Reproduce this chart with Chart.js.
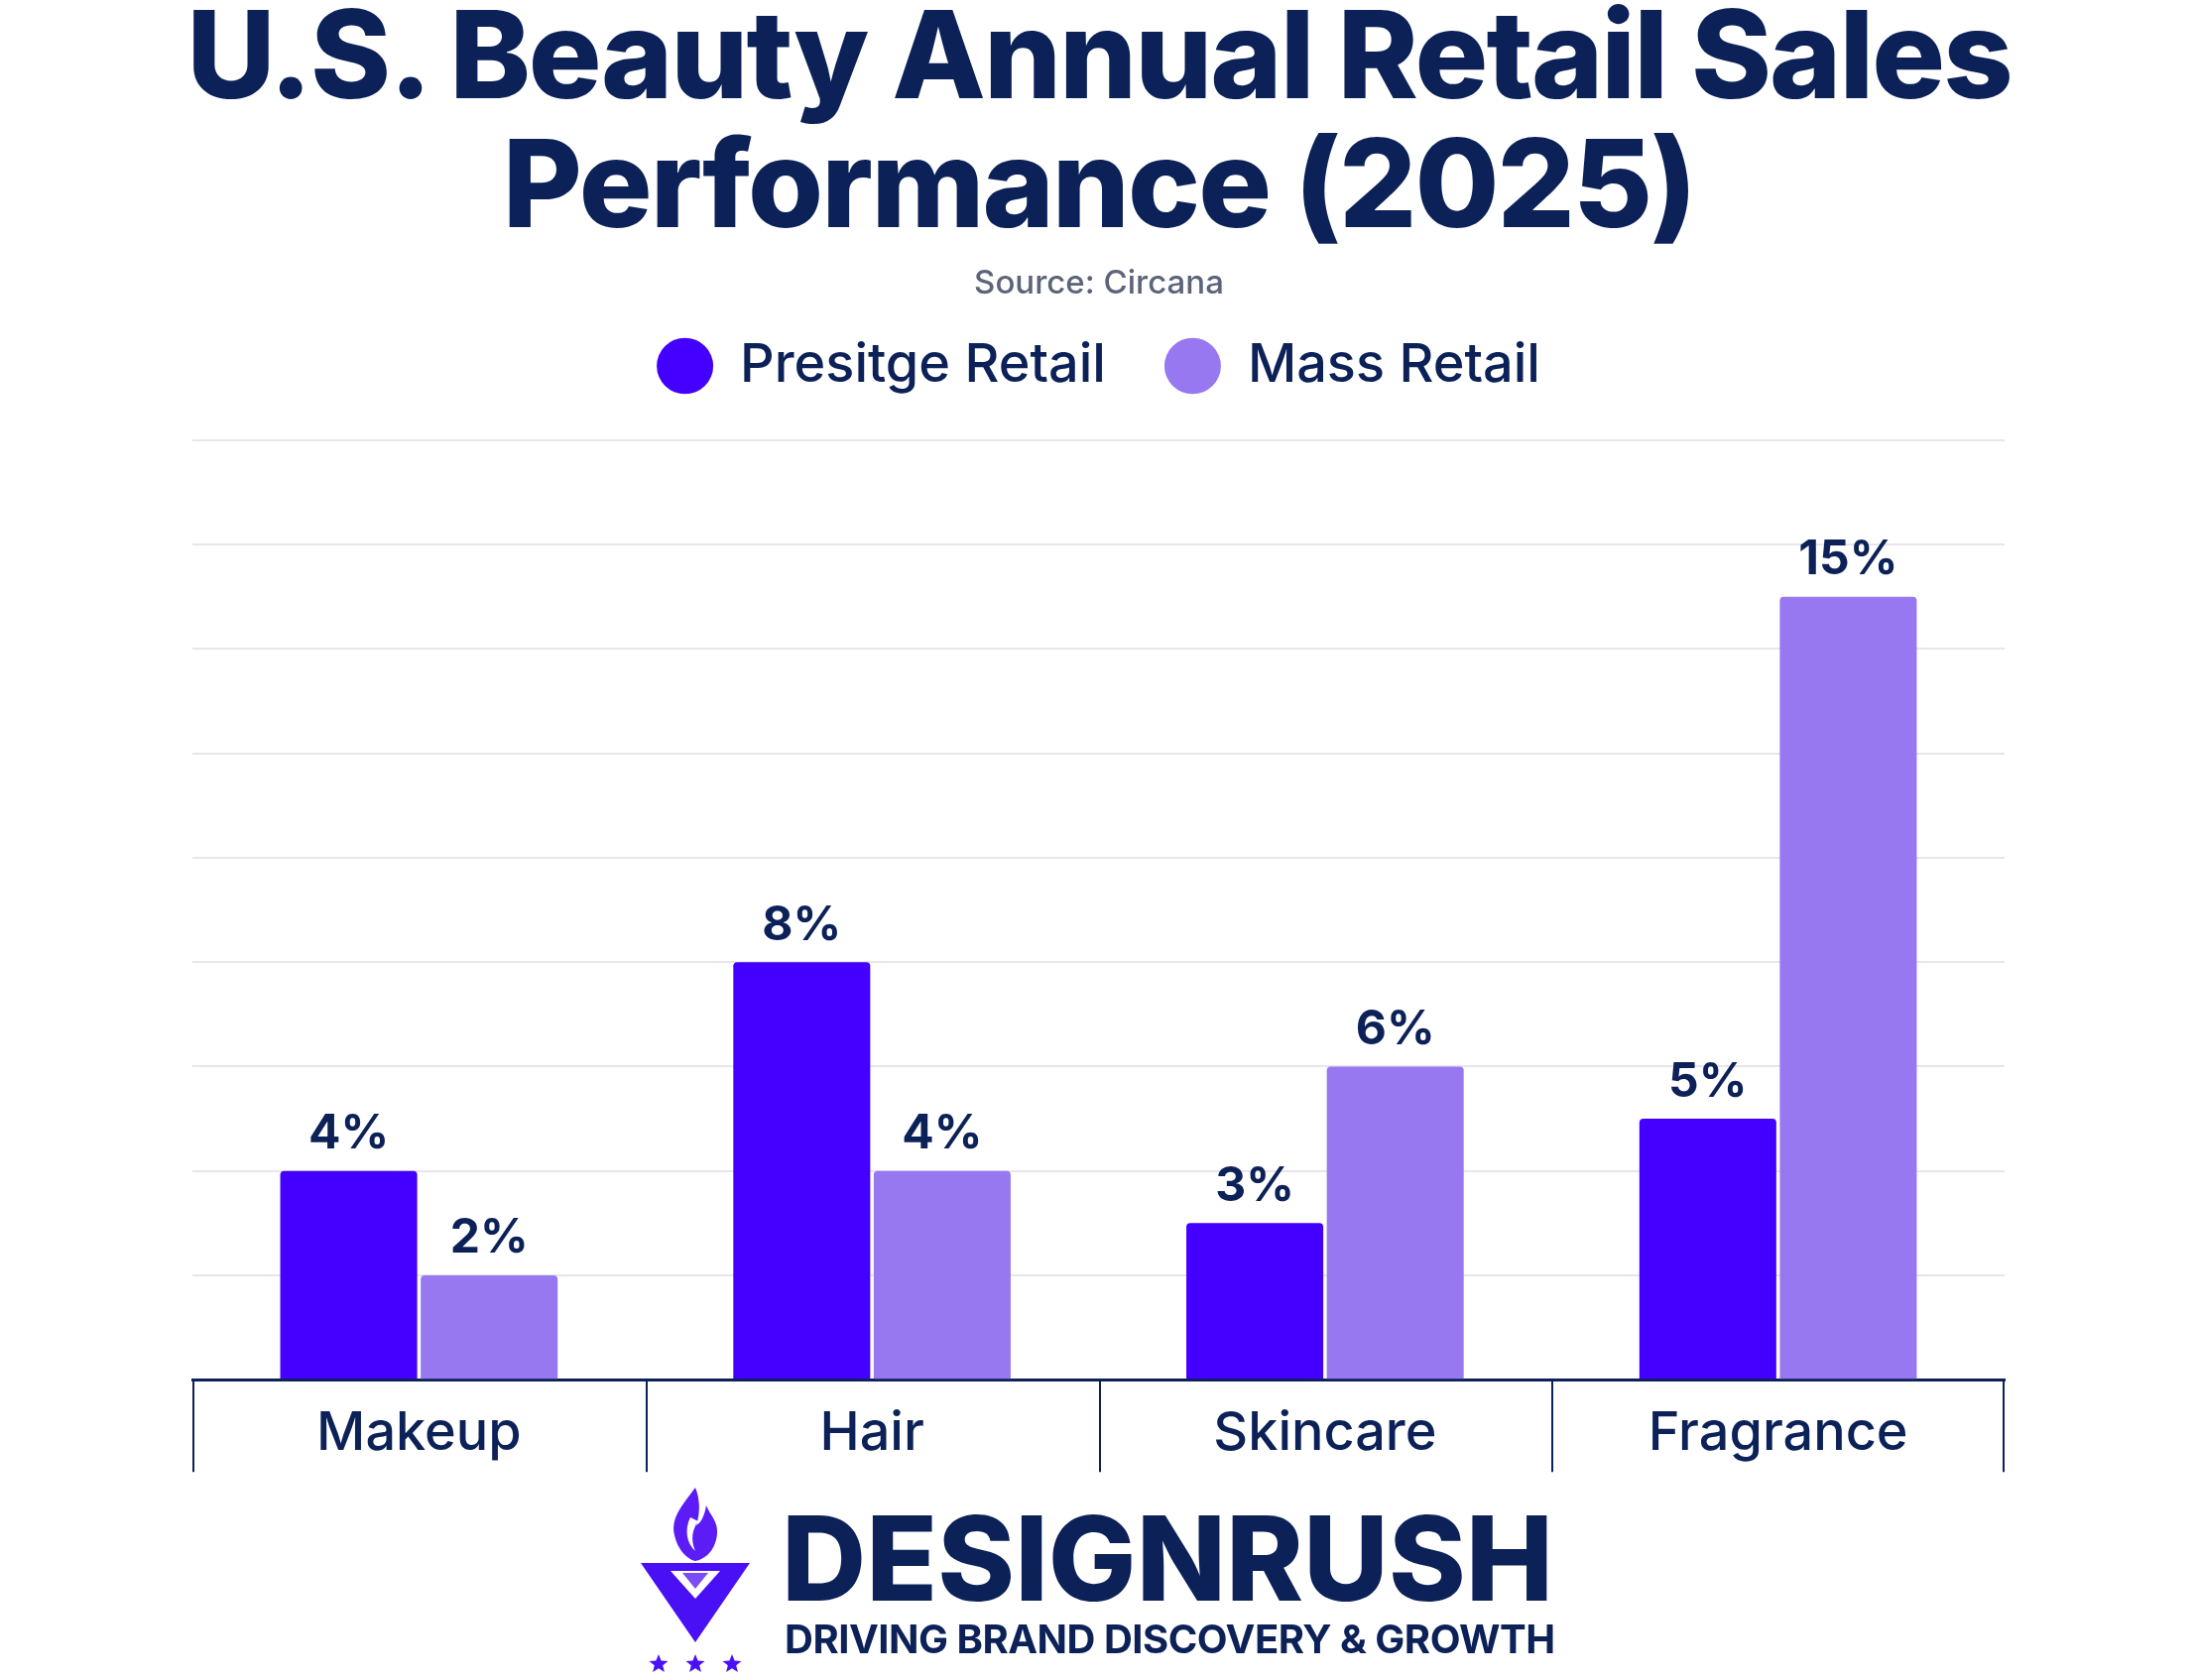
<!DOCTYPE html>
<html>
<head>
<meta charset="utf-8">
<script src="https://cdn.jsdelivr.net/npm/chart.js@4.4.1/dist/chart.umd.min.js"></script>
<style>
  html, body { margin: 0; padding: 0; background: #ffffff; }
  #page { position: relative; width: 2216px; height: 1694px; overflow: hidden; font-family: 'Inter', sans-serif; color: #0c2157; }
  #chart { position: absolute; left: 0; top: 0; }
  h1 { position: absolute; left: 0; top: -10px; width: 2216px; margin: 0; text-align: center;
       font-size: 123px; font-weight: 800; line-height: 130px; letter-spacing: -2px; }
  .source { position: absolute; left: 0; top: 264px; width: 2216px; text-align: center;
            font-size: 33px; font-weight: 500; color: #5b6478; margin: 0; }
  .logo-icon { position: absolute; left: 646px; top: 1500px; }
  .brand { position: absolute; left: 788px; top: 1512px; font-size: 118px; font-weight: 800; line-height: 1; }
  .tagline { position: absolute; left: 791px; top: 1633px; font-size: 40px; font-weight: 700; line-height: 1; letter-spacing: -0.5px; }
</style>
</head>
<body>
<div id="page">
  <canvas id="chart" width="2216" height="1694"></canvas>
  <h1>U.S. Beauty Annual Retail Sales<br>Performance (2025)</h1>
  <p class="source">Source: Circana</p>

  <svg class="logo-icon" width="110" height="192" viewBox="0 0 110 192">
    <path d="M55 0 C42 18 30 30 34 48 C37 62 46 72 55 74 C66 72 76 62 77 46 C78 34 70 28 66 18 C64 30 60 36 56 38 C60 26 60 12 55 0 Z" fill="#5b1cf5"/>
    <path d="M50 30 C44 42 46 56 55 64 C50 52 52 42 58 34 Z" fill="#ffffff"/>
    <polygon points="0,76 110,76 55,156" fill="#4a10f5"/>
    <polygon points="30,84 80,84 55,112" fill="#ffffff"/>
    <polygon points="42,86 68,86 55,102" fill="#7a4cf7"/>
    <g fill="#4a10f5">
      <polygon points="18,168 20.6,174.4 27.5,174.9 22.2,179.3 23.9,186 18,182.3 12.1,186 13.8,179.3 8.5,174.9 15.4,174.4"/>
      <polygon points="55,168 57.6,174.4 64.5,174.9 59.2,179.3 60.9,186 55,182.3 49.1,186 50.8,179.3 45.5,174.9 52.4,174.4"/>
      <polygon points="92,168 94.6,174.4 101.5,174.9 96.2,179.3 97.9,186 92,182.3 86.1,186 87.8,179.3 82.5,174.9 89.4,174.4"/>
    </g>
  </svg>
  <div class="brand">DESIGNRUSH</div>
  <div class="tagline">DRIVING BRAND DISCOVERY &amp; GROWTH</div>
</div>

<script>
// Values (percent growth)
const categories = ['Makeup', 'Hair', 'Skincare', 'Fragrance'];
const prestigeValues = [4, 8, 3, 5];
const massValues = [2, 4, 6, 15];
const seriesNames = ['Presitge Retail', 'Mass Retail'];

const NAVY = '#0c2157';

// value labels over each bar
const barLabels = {
    id: 'barLabels',
    afterDatasetsDraw(chart) {
        const ctx = chart.ctx;
        ctx.save();
        ctx.font = "700 48px 'Inter', sans-serif";
        ctx.fillStyle = NAVY;
        ctx.textAlign = 'center';
        ctx.textBaseline = 'middle';
        chart.data.datasets.forEach((ds, i) => {
            chart.getDatasetMeta(i).data.forEach((bar, j) => {
                ctx.fillText(ds.data[j] + '%', bar.x, bar.y - 37);
            });
        });
        ctx.restore();
    }
};

// vertical separators between categories, hanging below the axis
const categoryDividers = {
    id: 'categoryDividers',
    afterDraw(chart) {
        const xs = chart.scales.x;
        const step = xs.width / categories.length;
        const ctx = chart.ctx;
        ctx.save();
        ctx.strokeStyle = NAVY;
        ctx.lineWidth = 2;
        for (let i = 0; i <= categories.length; i++) {
            const x = Math.round(xs.left + i * step) + (i === categories.length ? -1 : 1);
            ctx.beginPath();
            ctx.moveTo(x, xs.top);
            ctx.lineTo(x, xs.top + 93);
            ctx.stroke();
        }
        ctx.restore();
    }
};

// extra room between legend and plot
const legendSpacing = {
    id: 'legendSpacing',
    beforeInit(chart) {
        const fit = chart.legend.fit;
        chart.legend.fit = function() {
            fit.bind(chart.legend)();
            this.height += 38;
        };
    }
};

new Chart(document.getElementById('chart'), {
    type: 'bar',
    data: {
        labels: categories,
        datasets: [{
            label: seriesNames[0],
            data: prestigeValues,
            backgroundColor: '#4400ff',
            borderRadius: 4,
            categoryPercentage: 0.62,
            barPercentage: 0.975
        }, {
            label: seriesNames[1],
            data: massValues,
            backgroundColor: '#9778f0',
            borderRadius: 4,
            categoryPercentage: 0.62,
            barPercentage: 0.975
        }]
    },
    options: {
        responsive: false,
        animation: false,
        layout: { padding: { top: 283, left: 194, right: 195, bottom: 202 } },
        plugins: {
            legend: {
                position: 'top',
                labels: {
                    usePointStyle: true,
                    pointStyle: 'circle',
                    pointStyleWidth: 57,
                    boxHeight: 40,
                    padding: 59,
                    color: NAVY,
                    font: { family: "'Inter', sans-serif", size: 54, weight: '500' }
                }
            },
            tooltip: { enabled: false }
        },
        scales: {
            x: {
                grid: { display: false },
                border: { color: NAVY, width: 3 },
                ticks: { color: NAVY, padding: 14, font: { family: "'Inter', sans-serif", size: 54, weight: '500' } }
            },
            y: {
                min: 0,
                max: 18,
                ticks: { stepSize: 2, display: false },
                grid: { color: '#e6e6ec', lineWidth: 2, drawTicks: false },
                border: { display: false }
            }
        }
    },
    plugins: [barLabels, categoryDividers, legendSpacing]
});
</script>
</body>
</html>
